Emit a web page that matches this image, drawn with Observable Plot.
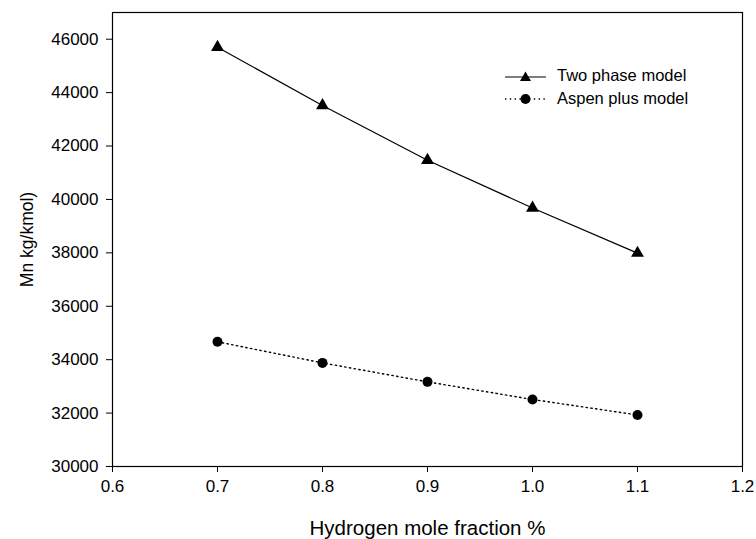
<!DOCTYPE html>
<html>
<head>
<meta charset="utf-8">
<script src="https://cdn.jsdelivr.net/npm/d3@7"></script>
<script src="https://cdn.jsdelivr.net/npm/@observablehq/plot@0.6"></script>
<style>
  html, body { margin: 0; padding: 0; background: #fff; }
  #wrap { position: relative; width: 756px; height: 539px; font-family: "Liberation Sans", Arial, sans-serif; }
  #wrap svg [aria-label="x-axis tick label"] text, #wrap svg [aria-label="y-axis tick label"] text { font-size: 17px; }
  #wrap svg [aria-label="x-axis label"] text { font-size: 20.5px; }
  #wrap svg [aria-label="y-axis label"] text { font-size: 17.5px; }
  #legend { position: absolute; left: 504px; top: 64px; font-size: 16.5px; color: #000; line-height: 23px; }
  #legend .row { display: flex; align-items: center; height: 23px; }
  #legend svg { margin-right: 10px; }
</style>
</head>
<body>
<div id="wrap"></div>
<script>
const hydrogen = [0.7, 0.8, 0.9, 1.0, 1.1];
const twoPhase = [45700, 43520, 41470, 39680, 37990];
const aspenPlus = [34670, 33880, 33170, 32510, 31930];
const seriesNames = ["Two phase model", "Aspen plus model"];
const xTicks = [0.6, 0.7, 0.8, 0.9, 1.0, 1.1, 1.2];
const yTicks = [30000, 32000, 34000, 36000, 38000, 40000, 42000, 44000, 46000];

const tp = hydrogen.map((x, i) => ({x, y: twoPhase[i]}));
const ap = hydrogen.map((x, i) => ({x, y: aspenPlus[i]}));

const chart = Plot.plot({
  width: 756,
  height: 539,
  marginLeft: 112,
  marginRight: 14,
  marginTop: 12,
  marginBottom: 73,
  style: {fontFamily: "Liberation Sans, Arial, sans-serif", fontSize: "17px", color: "#000", background: "#fff"},
  x: {domain: [0.6, 1.2]},
  y: {domain: [30000, 47000]},
  marks: [
    Plot.frame({stroke: "#000", strokeWidth: 1.2}),
    Plot.axisX({ticks: xTicks, tickFormat: d => d.toFixed(1), tickSize: 6, tickPadding: 7, fontSize: 17, label: "Hydrogen mole fraction %", labelAnchor: "center", labelOffset: 68, labelArrow: "none", stroke: "#000"}),
    Plot.axisY({ticks: yTicks, tickFormat: d => String(d), tickSize: 6, tickPadding: 8, fontSize: 17, label: "Mn kg/kmol)", labelAnchor: "center", labelOffset: 92, labelArrow: "none", stroke: "#000"}),
    Plot.line(tp, {x: "x", y: "y", stroke: "#000", strokeWidth: 1.2}),
    Plot.line(ap, {x: "x", y: "y", stroke: "#000", strokeWidth: 1.4, strokeDasharray: "1.4,3.4"}),
    Plot.dot(tp, {x: "x", y: "y", symbol: "triangle", r: 4.8, fill: "#000", stroke: "none"}),
    Plot.dot(ap, {x: "x", y: "y", symbol: "circle", r: 5, fill: "#000", stroke: "none"})
  ]
});
const wrap = document.getElementById("wrap");
wrap.appendChild(chart);

const legend = document.createElement("div");
legend.id = "legend";
legend.innerHTML = `
<div class="row"><svg width="43" height="14"><line x1="1" y1="8" x2="42" y2="8" stroke="#000" stroke-width="1.2"/><path d="M21.5,2.5 L27,12 L16,12 Z" fill="#000"/></svg><span>${seriesNames[0]}</span></div>
<div class="row"><svg width="43" height="14"><line x1="1" y1="7" x2="42" y2="7" stroke="#000" stroke-width="1.4" stroke-dasharray="1.4,3.4"/><circle cx="21.5" cy="7" r="5" fill="#000"/></svg><span>${seriesNames[1]}</span></div>`;
wrap.appendChild(legend);
</script>
</body>
</html>
